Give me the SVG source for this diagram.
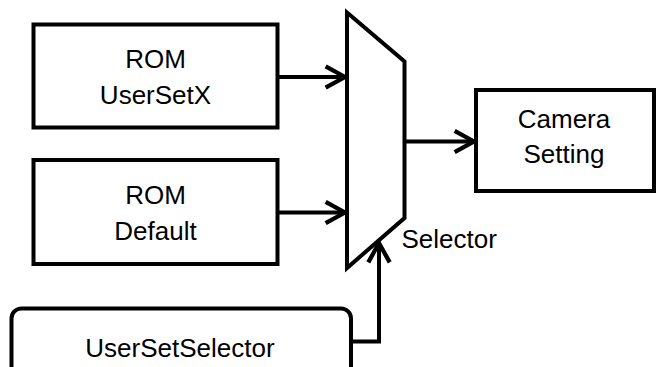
<svg xmlns="http://www.w3.org/2000/svg" width="657" height="367" viewBox="0 0 657 367">
  <style>
    .box { fill: #ffffff; stroke: #000000; stroke-width: 4; }
    .lbl { font-family: "Liberation Sans", Arial, sans-serif; font-size: 26px; fill: #000000; text-anchor: middle; }
    .conn { fill: none; stroke: #000000; stroke-width: 4; }
  </style>
  <defs>
    <marker id="arrow" markerUnits="userSpaceOnUse" markerWidth="30" markerHeight="30" viewBox="-24 -14 28 28" refX="0" refY="0" orient="auto">
      <path d="M-19,-10 L-1,0 L-19,10" fill="none" stroke="#000000" stroke-width="4" stroke-linejoin="miter"/>
    </marker>
  </defs>
  <rect width="657" height="367" fill="#ffffff"/>

  <g id="rom-userset">
    <rect class="box" x="33.5" y="24.5" width="244" height="103"/>
    <text class="lbl" x="155.5" y="68">ROM</text>
    <text class="lbl" x="155.5" y="104">UserSetX</text>
  </g>

  <g id="rom-default">
    <rect class="box" x="33.5" y="160" width="244" height="104"/>
    <text class="lbl" x="155.5" y="204">ROM</text>
    <text class="lbl" x="155.5" y="240">Default</text>
  </g>

  <g id="selector">
    <polygon class="box" points="347,12.5 404.5,61.5 404.5,218 347,268"/>
    <text class="lbl" x="401.5" y="248" style="text-anchor:start">Selector</text>
  </g>

  <g id="camera-setting">
    <rect class="box" x="476" y="90" width="178" height="101"/>
    <text class="lbl" x="564" y="128">Camera</text>
    <text class="lbl" x="564" y="163">Setting</text>
  </g>

  <g id="usersetselector">
    <rect class="box" x="11.5" y="308.5" width="339.5" height="80" rx="10" ry="10"/>
    <text class="lbl" x="180" y="357">UserSetSelector</text>
  </g>

  <g id="connectors">
    <line class="conn" x1="277.5" y1="77" x2="346" y2="77" marker-end="url(#arrow)"/>
    <line class="conn" x1="277.5" y1="212.5" x2="346" y2="212.5" marker-end="url(#arrow)"/>
    <line class="conn" x1="404.5" y1="141.5" x2="475" y2="141.5" marker-end="url(#arrow)"/>
    <polyline class="conn" points="351,341.5 379,341.5 379,242" marker-end="url(#arrow)"/>
  </g>
</svg>
